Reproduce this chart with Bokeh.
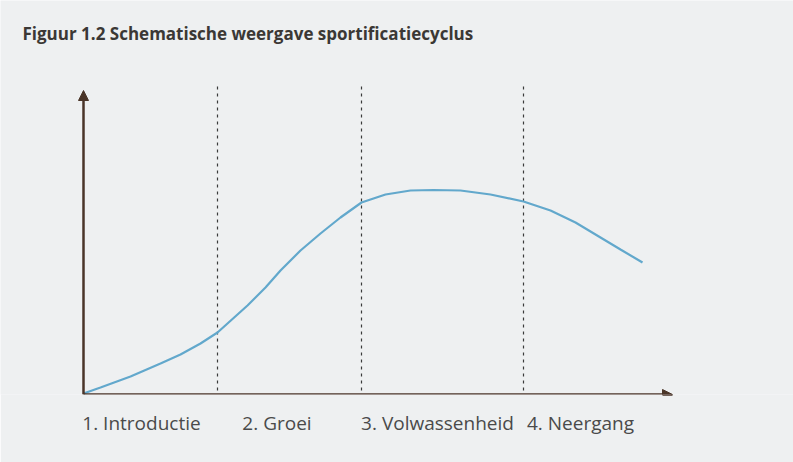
from bokeh.plotting import figure
from bokeh.models import Range1d, FixedTicker, Arrow, NormalHead, LinearAxis, Label
from bokeh.embed import file_html
from bokeh.resources import INLINE

# --- data (schematic units) ---
title_text = "Figuur 1.2 Schematische weergave sportificatiecyclus"
phase_labels = ["1. Introductie", "2. Groei", "3. Volwassenheid", "4. Neergang"]
label_pos = [5.8, 19.35, 35.4, 49.7]
phase_bounds = [13.4, 27.8, 44.0]
curve_x = [0, 1.7, 4.7, 7.7, 9.7, 11.7, 13.4, 16.4, 18.2, 19.7, 21.7, 23.7, 25.7,
           27.8, 30.2, 32.7, 35.0, 37.7, 40.7, 44.0, 46.7, 49.2, 51.7, 53.7, 55.9]
curve_y = [0.1, 0.7, 1.8, 3.1, 4.0, 5.1, 6.2, 8.9, 10.7, 12.4, 14.4, 16.1, 17.7,
           19.2, 20.0, 20.4, 20.45, 20.4, 20.0, 19.3, 18.4, 17.2, 15.7, 14.5, 13.2]
x_axis_end = 58.9
y_axis_end = 30.4
dash_bottom = 0.4
dash_top = 31.0

BG = "#eef0f1"
AXIS = "#4a3528"

p = figure(width=793, height=462, output_backend="svg", toolbar_location=None,
           x_range=Range1d(-8.3, 71.0), y_range=Range1d(0, 39.4),
           min_border_left=0, min_border_right=0, min_border_top=0,
           min_border_bottom=68, x_axis_location=None, y_axis_location=None)
p.background_fill_color = BG
p.border_fill_color = BG
p.outline_line_color = None
p.grid.visible = False

# title (placed above the plot area)
p.add_layout(Label(x=-6.1, y=36.1, text=title_text, text_align="left",
                   text_baseline="middle", text_font="Open Sans",
                   text_font_size="17px", text_font_style="bold",
                   text_color="#3b3835"))

xa = LinearAxis(ticker=FixedTicker(ticks=label_pos),
                major_label_overrides={v: s for v, s in zip(label_pos, phase_labels)})
xa.axis_line_color = None
xa.major_tick_line_color = None
xa.minor_tick_line_color = None
xa.major_tick_in = 0
xa.major_tick_out = 0
xa.major_label_standoff = 15
xa.major_label_text_font = "Open Sans"
xa.major_label_text_font_size = "19px"
xa.major_label_text_color = "#4a4a4a"
p.add_layout(xa, "below")

# dashed phase boundaries
p.segment(x0=phase_bounds, y0=[dash_bottom] * 3, x1=phase_bounds, y1=[dash_top] * 3,
          line_color="#3a3a3a", line_width=1.2, line_dash="3 4")

# lifecycle curve
p.line(curve_x, curve_y, line_color="#62a8cc", line_width=2.2)

# axes with arrow heads
p.add_layout(Arrow(x_start=0, y_start=0, x_end=x_axis_end, y_end=0,
                   line_color=AXIS, line_width=2.5,
                   end=NormalHead(size=10, fill_color=AXIS, line_color=AXIS)))
p.add_layout(Arrow(x_start=0, y_start=0, x_end=0, y_end=y_axis_end,
                   line_color=AXIS, line_width=2.5,
                   end=NormalHead(size=10, fill_color=AXIS, line_color=AXIS)))

open("out.html", "w").write(file_html(p, INLINE))
